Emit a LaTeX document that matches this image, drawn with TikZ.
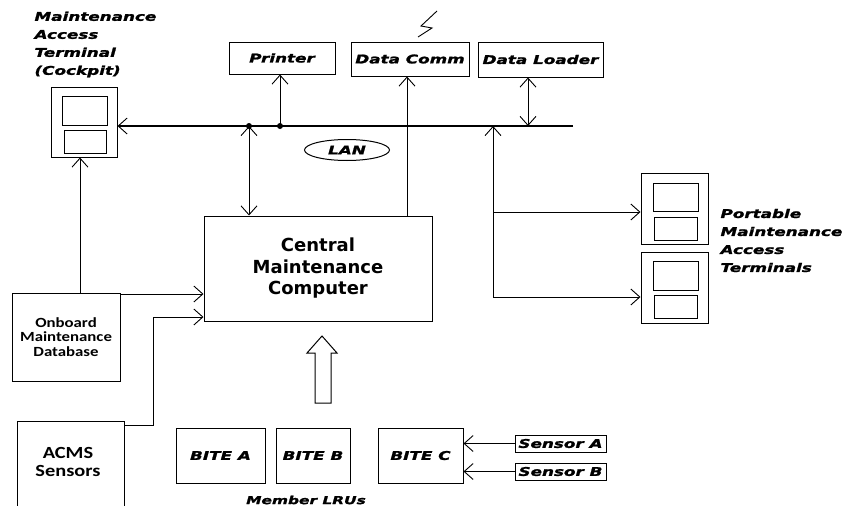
\documentclass[tikz,border=0pt]{standalone}
\usepackage{fontspec}
\usetikzlibrary{arrows.meta,shapes.geometric}
\newfontfamily\blkfnt{DejaVu Sans}[FakeStretch=1.4,FakeBold=1.6]
\newfontfamily\dvfnt{DejaVu Sans}
\newfontfamily\crfnt{Carlito}[FakeStretch=1.2]
\begin{document}
\begin{tikzpicture}[x=1pt,y=-1pt,
  box/.style={draw, line width=1pt, inner sep=0pt},
  blk/.style={font=\blkfnt\bfseries\itshape\fontsize{12}{18}\selectfont},
  cmcf/.style={font=\dvfnt\bfseries\fontsize{18}{21.5}\selectfont},
  omdf/.style={font=\crfnt\bfseries\fontsize{14}{14.5}\selectfont},
  acmsf/.style={font=\crfnt\bfseries\fontsize{17}{18}\selectfont},
  >={Straight Barb[length=9pt,width=16pt,line width=0.9pt]},
  conn/.style={line width=0.9pt},
  bus/.style={line width=2.6pt}]
\useasboundingbox (0,0) rectangle (849,506);

% cockpit terminal
\node[box, minimum width=66pt, minimum height=70pt] (cockT) at (84,122) {};
\node[box, minimum width=45pt, minimum height=29pt] (cockA) at (84.5,110.5) {};
\node[box, minimum width=42pt, minimum height=23pt] (cockB) at (85,141.5) {};
\node[blk, anchor=west, align=left] (cockL) at (31,44.5) {Maintenance\\Access\\Terminal\\(Cockpit)};

% top boxes
\node[box, blk, minimum width=106pt, minimum height=32pt] (pr) at (282,58) {Printer};
\node[box, blk, minimum width=118pt, minimum height=34pt] (dc) at (410,59) {Data Comm};
\node[box, blk, minimum width=125pt, minimum height=35pt] (dl) at (540.5,59.5) {Data Loader};

% lightning
\draw[conn] (437,11) -- (421,26) -- (432,28) -- (418,37);

% LAN bus
\coordinate (lanE) at (573,126);
\coordinate (d1) at (249,126);
\coordinate (d2) at (280,126);
\coordinate (d4) at (528,126);
\coordinate (d5) at (493,126);
\draw[bus, -{Straight Barb[length=9pt,width=16pt,line width=0.9pt]}] (lanE) -- (cockT.east |- lanE);
\fill (d1) circle (3pt);
\fill (d2) circle (3pt);
\node[draw, ellipse, line width=1pt, blk, minimum width=85pt, minimum height=21pt, inner sep=0pt] (lan) at (347,150) {LAN};

% CMC
\node[box, cmcf, align=center, minimum width=228pt, minimum height=105pt] (cmc) at (318,268.5) {Central\\Maintenance\\Computer};

\draw[conn, ->] (d2) -- (d2 |- pr.south);
\draw[conn, <->] (d1 |- cmc.north) -- (d1);
\coordinate (c3) at (407,216);
\draw[conn, ->] (c3) -- (c3 |- dc.south);
\draw[conn, <->] (d4) -- (d4 |- dl.south);

% portable terminals
\node[box, minimum width=67pt, minimum height=71pt] (p1) at (674.5,208.5) {};
\node[box, minimum width=45pt, minimum height=28pt] (p1a) at (675.5,197) {};
\node[box, minimum width=43pt, minimum height=23pt] (p1b) at (675.5,228.5) {};
\node[box, minimum width=67pt, minimum height=71pt] (p2) at (674.5,287.5) {};
\node[box, minimum width=45pt, minimum height=29pt] (p2a) at (675.5,275.5) {};
\node[box, minimum width=43pt, minimum height=23pt] (p2b) at (675.5,306.5) {};
\node[blk, anchor=west, align=left] (pL) at (717,240.5) {Portable\\Maintenance\\Access\\Terminals};
\coordinate (b1) at (493,212);
\coordinate (b2) at (493,297);
\draw[conn, ->] (b2) -- (d5);
\draw[conn, ->] (b1) -- (b1 -| p1.west);
\draw[conn, ->] (b2) -- (b2 -| p2.west);

% onboard maintenance database
\node[box, omdf, align=center, minimum width=108pt, minimum height=88pt] (omd) at (66,337) {Onboard\\Maintenance\\Database};
\coordinate (o1) at (80,293);
\draw[conn, ->] (o1) -- (o1 |- cockT.south);
\coordinate (o2) at (120,294);
\draw[conn, ->] (o2) -- (o2 -| cmc.west);

% ACMS sensors
\node[box, minimum width=107pt, minimum height=92pt] (acms) at (70.5,467) {};
\node[acmsf, align=center] (acmsT) at (68,462) {ACMS\\Sensors};
\coordinate (a1) at (124,425);
\coordinate (a2) at (153,317);
\draw[conn, ->] (a1) -| (a2) -- (a2 -| cmc.west);

% hollow arrow
\draw[line width=1pt] (315,403) -- (315,353) -- (307,353) -- (322,336) -- (337,353) -- (331,353) -- (331,403) -- cycle;

% BITE boxes
\node[box, blk, minimum width=89pt, minimum height=55pt] (ba) at (220.5,455.5) {BITE A};
\node[box, blk, minimum width=74pt, minimum height=55pt] (bb) at (313,455.5) {BITE B};
\node[box, blk, minimum width=85pt, minimum height=55pt] (bc) at (420.5,455.5) {BITE C};
\node[box, blk, minimum width=91pt, minimum height=17pt] (sa) at (560.5,443.5) {Sensor A};
\node[box, blk, minimum width=91pt, minimum height=17pt] (sb) at (560.5,471.5) {Sensor B};
\draw[conn, ->] (sa.west) -- (sa.west -| bc.east);
\draw[conn, ->] (sb.west) -- (sb.west -| bc.east);
\node[blk, font=\blkfnt\bfseries\itshape\fontsize{11}{12}\selectfont] (mlru) at (306,500) {Member LRUs};
\end{tikzpicture}
\end{document}
